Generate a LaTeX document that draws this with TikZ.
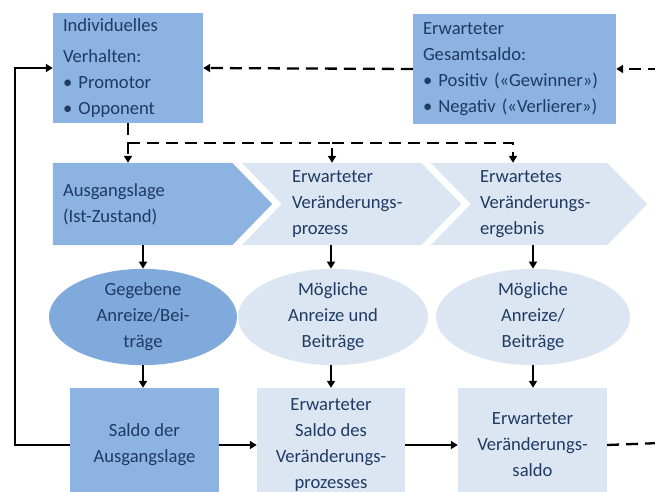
\documentclass[tikz,border=0pt]{standalone}
\usepackage{fontspec}
\setmainfont{Carlito}
\usetikzlibrary{arrows.meta,calc,shapes.geometric}
\definecolor{midblue}{HTML}{8DB3E2}
\definecolor{deepblue}{HTML}{80A9DC}
\definecolor{paleblue}{HTML}{DCE6F2}
\definecolor{txt}{HTML}{1F3A63}
\begin{document}
\begin{tikzpicture}[x=1pt,y=-1pt,
  font=\fontsize{18.6}{26}\selectfont,
  every node/.style={text=txt},
  box/.style={rectangle, inner sep=0pt, draw=none},
  chev/.style={rectangle, inner sep=0pt, draw=none, minimum height=82pt},
  oval/.style={ellipse, inner sep=0pt, minimum height=77pt, align=center},
  lbl/.style={inner sep=0pt, align=left, anchor=west},
  arr/.style={line width=2.3pt, -{Triangle[length=7pt,width=8pt]}},
  darr/.style={arr, dash pattern=on 12pt off 7pt},
  dline/.style={line width=2.3pt, dash pattern=on 12pt off 7pt}]
\useasboundingbox (0,0) rectangle (655,491);
\clip (0,0) rectangle (655,491);
\fill[white] (0,0) rectangle (655,491);

% top boxes
\node[box, fill=midblue, minimum width=150pt, minimum height=110pt, text width=130pt, align=left] (b1) at (128,68)
  {Individuelles\\[5pt]Verhalten:\\• Promotor\\• Opponent};
\node[box, fill=midblue, minimum width=203pt, minimum height=110pt, text width=183pt, align=left] (b2) at (514.5,69)
  {Erwarteter\\Gesamtsaldo:\\• Positiv («Gewinner»)\\• Negativ («Verlierer»)};

% chevrons
\node[chev, minimum width=219pt] (c1) at (162.5,204) {};
\node[chev, minimum width=219pt] (c2) at (351.5,204) {};
\node[chev, minimum width=216pt] (c3) at (539,204) {};
\fill[midblue] (c1.north west) -- ($(c1.north east)+(-40,0)$) -- (c1.east) -- ($(c1.south east)+(-40,0)$) -- (c1.south west) -- cycle;
\fill[paleblue] (c2.north west) -- ($(c2.north east)+(-40,0)$) -- (c2.east) -- ($(c2.south east)+(-40,0)$) -- (c2.south west) -- ($(c2.west)+(40,0)$) -- cycle;
\fill[paleblue] (c3.north west) -- ($(c3.north east)+(-40,0)$) -- (c3.east) -- ($(c3.south east)+(-40,0)$) -- (c3.south west) -- ($(c3.west)+(40,0)$) -- cycle;
\node[lbl] (t1) at ($(c1.west)+(10,0)$) {Ausgangslage\\(Ist-Zustand)};
\node[lbl] (t2) at ($(c2.west)+(50,0)$) {Erwarteter\\Veränderungs-\\prozess};
\node[lbl] (t3) at ($(c3.west)+(49,0)$) {Erwartetes\\Veränderungs-\\ergebnis};

% ellipses
\node[oval, fill=deepblue, minimum width=188pt] (e1) at (143,317) {Gegebene\\Anreize/Bei-\\träge};
\node[oval, fill=paleblue, minimum width=190pt] (e2) at (333,317) {Mögliche\\Anreize und\\Beiträge};
\node[oval, fill=paleblue, minimum width=194pt] (e3) at (533,317) {Mögliche\\Anreize/\\Beiträge};

% bottom boxes
\node[box, fill=midblue, minimum width=149pt, minimum height=114pt, align=center] (s1) at (144.5,445) {Saldo der\\Ausgangslage};
\node[box, fill=paleblue, minimum width=148pt, minimum height=114pt, align=center] (s2) at (331,445) {Erwarteter\\Saldo des\\Veränderungs-\\prozesses};
\node[box, fill=paleblue, minimum width=149pt, minimum height=114pt, align=center] (s3) at (532.5,445) {Erwarteter\\Veränderungs-\\saldo};

% helper coordinates
\coordinate (L) at (15,68);
\coordinate (R1) at (660,69);
\coordinate (R2) at (660,443);
\coordinate (J) at (128,143);
\coordinate (K2) at (332,143);
\coordinate (K3) at (513,143);

% connectors
\draw[arr] (s1.west) -- (s1.west -| L) |- (b1.west);
\draw[darr] (b2.west) -- (b1.east);
\draw[darr] (R1) -- (b2.east);
\draw[darr] (b1.south) -- (b1.south |- c1.north);
\draw[darr] (J) -- (K2) -- (K2 |- c2.north);
\draw[darr] (K2) -- (K3) -- (K3 |- c3.north);

\draw[arr] (e1.north |- c1.south) -- (e1.north);
\draw[arr] (s2.north |- c2.south) -- (s2.north |- e2.north);
\draw[arr] (e3.north |- c3.south) -- (e3.north);

\draw[arr] (e1.south) -- (e1.south |- s1.north);
\draw[arr] (s2.north |- e2.south) -- (s2.north);
\draw[arr] (e3.south) -- (e3.south |- s3.north);

\draw[arr] (s1.east) -- (s2.west);
\draw[arr] (s2.east) -- (s3.west);
\draw[dline] (s3.east) -- (R2);
\end{tikzpicture}
\end{document}
